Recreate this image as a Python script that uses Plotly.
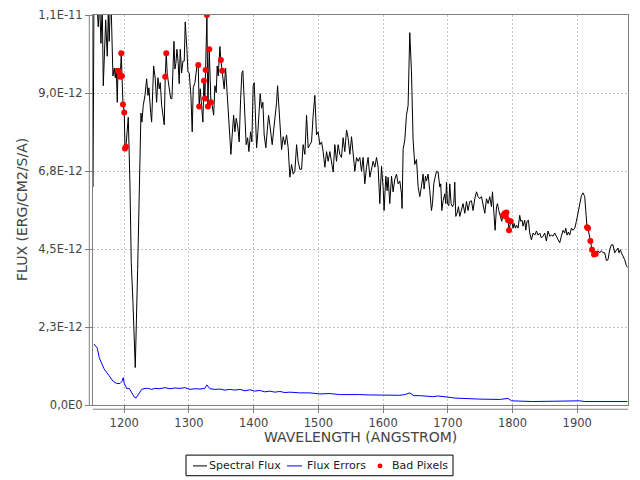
import plotly.graph_objects as go

FLUX_UNIT = 1e-12  # flux values below are in units of 1e-12 erg/cm2/s/A

# ---- Spectral flux ----
wave = [1151.7, 1153.2, 1158.3, 1159.8, 1162.0, 1164.0, 1166.0, 1167.6, 1171.3, 1173.7,
        1175.3, 1176.8, 1178.4, 1179.5, 1182.5, 1184.6, 1186.1, 1187.6, 1189.2, 1190.3,
        1191.8, 1193.8, 1195.4, 1196.4, 1198.0, 1200.0, 1201.1, 1202.6, 1206.2, 1208.8,
        1210.8, 1213.4, 1217.0, 1220.7, 1223.2, 1225.8, 1227.3, 1229.3, 1232.0, 1234.6,
        1236.6, 1238.1, 1240.8, 1242.3, 1245.4, 1247.9, 1250.0, 1252.0, 1254.1, 1255.6,
        1257.8, 1259.8, 1261.8, 1263.3, 1264.9, 1266.4, 1269.0, 1271.7, 1273.7, 1275.7,
        1276.8, 1278.3, 1279.8, 1281.4, 1283.4, 1284.9, 1286.5, 1288.6, 1290.7, 1292.7,
        1294.2, 1296.8, 1298.4, 1300.4, 1303.0, 1305.0, 1306.6, 1309.2, 1312.3, 1314.3,
        1315.8, 1317.4, 1319.5, 1321.5, 1323.1, 1324.6, 1325.7, 1327.7, 1329.3, 1331.3,
        1333.9, 1335.9, 1338.1, 1340.1, 1342.1, 1343.6, 1345.2, 1347.8, 1349.3, 1351.4,
        1352.9, 1354.4, 1356.6, 1358.6, 1361.2, 1362.8, 1364.8, 1366.8, 1369.0, 1371.0,
        1373.0, 1375.6, 1377.6, 1379.8, 1381.8, 1383.3, 1385.9, 1388.4, 1390.6, 1392.6,
        1395.2, 1397.2, 1399.2, 1400.8, 1402.3, 1404.5, 1406.5, 1408.0, 1410.0, 1412.2,
        1414.2, 1416.2, 1418.8, 1420.8, 1423.0, 1425.0, 1427.0, 1428.6, 1431.2, 1433.8,
        1435.4, 1436.9, 1438.5, 1440.5, 1443.1, 1445.6, 1448.2, 1450.8, 1453.3, 1455.9,
        1458.5, 1461.0, 1463.6, 1466.3, 1468.7, 1471.3, 1474.0, 1476.4, 1479.1, 1481.7,
        1484.2, 1486.8, 1489.4, 1491.9, 1494.5, 1497.1, 1499.6, 1502.2, 1504.9, 1507.3,
        1510.0, 1512.6, 1515.1, 1517.7, 1520.3, 1522.8, 1525.4, 1528.0, 1530.5, 1533.1,
        1535.7, 1538.2, 1540.8, 1543.5, 1545.9, 1548.6, 1551.2, 1553.7, 1556.3, 1558.9,
        1561.4, 1564.0, 1566.6, 1569.1, 1571.7, 1574.3, 1576.8, 1579.5, 1582.1, 1584.6,
        1587.2, 1589.8, 1592.3, 1594.9, 1597.5, 1600.0, 1601.5, 1604.2, 1606.2, 1607.7,
        1610.3, 1613.0, 1615.4, 1618.1, 1620.7, 1623.2, 1625.8, 1628.4, 1629.3, 1630.9,
        1633.5, 1636.1, 1638.6, 1641.2, 1643.8, 1646.3, 1648.9, 1651.6, 1654.1, 1656.7,
        1659.3, 1661.8, 1663.3, 1665.5, 1667.0, 1669.5, 1672.1, 1674.7, 1676.3, 1678.3,
        1680.3, 1682.5, 1684.9, 1687.6, 1689.1, 1690.7, 1692.7, 1695.3, 1696.8, 1697.9,
        1699.5, 1701.5, 1703.0, 1705.0, 1707.2, 1709.2, 1710.7, 1712.3, 1714.3, 1716.4,
        1718.5, 1721.1, 1723.5, 1726.2, 1728.8, 1731.3, 1733.9, 1736.5, 1739.0, 1741.6,
        1744.3, 1746.7, 1749.3, 1752.0, 1754.4, 1757.1, 1759.7, 1762.2, 1764.8, 1767.4,
        1769.0, 1771.0, 1773.0, 1775.2, 1776.7, 1778.7, 1781.3, 1783.3, 1785.3, 1788.0,
        1789.5, 1790.6, 1793.1, 1794.6, 1797.2, 1798.8, 1800.8, 1802.3, 1804.5, 1806.0,
        1808.5, 1811.1, 1812.7, 1814.7, 1816.2, 1818.8, 1820.4, 1822.4, 1824.5, 1826.6,
        1829.2, 1831.7, 1834.3, 1836.9, 1839.4, 1842.0, 1844.6, 1847.1, 1849.7, 1852.3,
        1854.8, 1857.5, 1860.1, 1862.5, 1865.2, 1867.8, 1870.3, 1872.9, 1875.5, 1878.0,
        1880.6, 1882.2, 1884.2, 1886.3, 1888.3, 1891.0, 1893.4, 1896.1, 1898.7, 1901.2,
        1903.8, 1906.4, 1908.9, 1911.5, 1913.1, 1915.1, 1916.6, 1920.3, 1922.8, 1925.9,
        1928.5, 1932.1, 1934.7, 1937.3, 1939.8, 1942.4, 1945.0, 1947.5, 1950.1, 1952.7,
        1955.2, 1957.8, 1960.5, 1962.9, 1964.5, 1966.6, 1968.2, 1970.7, 1973.3, 1975.9,
        1977.5]

flux_e12 = [6.29, 11.80, 11.42, 10.91, 11.56, 10.43, 11.56, 9.21, 11.11, 10.06,
            11.25, 10.49, 11.56, 11.70, 9.49, 9.72, 9.44, 9.72, 8.73, 9.64,
            9.61, 9.47, 10.15, 9.49, 8.67, 8.44, 7.40, 7.45, 8.30, 6.38,
            4.11, 2.98, 1.08, 3.91, 6.29, 8.42, 8.16, 8.64, 8.93, 9.41,
            8.93, 9.15, 8.44, 8.16, 9.78, 9.41, 8.73, 9.44, 9.12, 9.30,
            8.64, 8.36, 8.08, 9.47, 10.15, 9.55, 9.21, 8.84, 8.84, 9.69,
            10.49, 9.69, 9.86, 10.26, 9.86, 9.27, 10.26, 9.58, 9.92, 9.92,
            11.05, 10.26, 9.61, 9.58, 8.93, 7.88, 9.15, 9.30, 9.78, 9.81,
            8.61, 9.12, 8.64, 8.16, 9.35, 8.84, 9.66, 11.25, 8.61, 10.26,
            8.73, 8.64, 8.36, 9.21, 9.01, 9.78, 9.49, 10.34, 9.95, 9.64,
            9.30, 9.12, 9.72, 9.12, 8.36, 7.88, 7.23, 7.79, 8.36, 7.88,
            8.27, 7.99, 7.59, 8.84, 9.58, 9.64, 8.64, 7.51, 7.71, 7.31,
            7.88, 7.59, 9.21, 9.30, 8.56, 7.42, 7.88, 8.44, 8.98, 8.56,
            8.73, 7.79, 7.42, 7.88, 8.36, 8.08, 7.79, 7.51, 7.99, 8.36,
            8.73, 9.21, 8.64, 8.08, 7.37, 7.74, 7.51, 7.79, 7.42, 6.57,
            6.94, 6.66, 6.74, 7.51, 7.03, 6.80, 6.80, 7.51, 7.23, 8.36,
            7.42, 7.51, 7.59, 8.36, 8.93, 7.79, 7.88, 7.51, 7.59, 7.31,
            6.86, 7.31, 7.03, 7.31, 7.03, 6.72, 7.51, 7.03, 7.51, 7.23,
            7.14, 7.71, 7.31, 7.93, 7.71, 7.23, 7.74, 7.14, 6.74, 7.14,
            7.03, 7.14, 6.74, 7.14, 6.38, 6.86, 7.14, 6.57, 6.86, 7.03,
            6.86, 7.14, 6.86, 5.81, 6.89, 6.29, 5.61, 6.60, 6.18, 6.57,
            5.81, 6.60, 6.15, 6.52, 6.66, 6.38, 6.46, 6.09, 5.67, 7.37,
            7.65, 8.36, 8.64, 10.74, 9.64, 7.65, 6.94, 7.08, 6.29, 6.01,
            6.32, 6.66, 6.23, 6.60, 6.46, 6.66, 6.18, 5.61, 5.81, 6.38,
            6.57, 6.74, 6.72, 6.29, 6.38, 5.61, 5.89, 6.09, 5.81, 6.43,
            5.81, 5.75, 6.38, 5.81, 5.72, 5.81, 6.43, 5.44, 5.53, 5.72,
            5.44, 5.61, 5.81, 5.53, 5.87, 5.61, 5.87, 5.89, 5.61, 5.95,
            6.15, 6.01, 5.95, 6.01, 5.81, 5.53, 5.95, 5.81, 6.01, 5.72,
            6.15, 5.67, 5.04, 5.72, 5.81, 5.61, 5.38, 5.30, 5.47, 5.53,
            5.44, 5.55, 5.33, 5.04, 5.30, 5.30, 5.10, 5.24, 5.10, 5.19,
            5.10, 5.47, 5.30, 5.33, 5.16, 5.33, 5.04, 5.30, 5.33, 4.96,
            4.76, 4.96, 4.90, 5.02, 4.90, 4.96, 4.82, 4.87, 4.96, 4.73,
            5.02, 4.87, 4.90, 4.87, 4.96, 4.87, 4.76, 4.68, 4.87, 5.04,
            4.96, 5.10, 4.90, 4.99, 4.90, 5.10, 5.04, 5.10, 5.30, 5.53,
            5.81, 6.04, 6.12, 6.01, 5.61, 5.13, 5.10, 4.73, 4.48, 4.34,
            4.36, 4.45, 4.39, 4.45, 4.39, 4.39, 4.17, 4.19, 4.48, 4.62,
            4.62, 4.39, 4.45, 4.53, 4.39, 4.48, 4.39, 4.31, 4.19, 4.02,
            3.97]

# ---- Flux errors ----
err_wave = [1153.2, 1156.3, 1158.3, 1161.4, 1165.1, 1168.6, 1172.8, 1177.9, 1183.0, 1188.3,
            1193.4, 1196.4, 1198.5, 1200.0, 1203.7, 1207.7, 1211.4, 1215.4, 1218.1, 1220.1,
            1223.2, 1226.9, 1232.0, 1237.1, 1242.3, 1247.4, 1255.1, 1262.9, 1270.6, 1278.3,
            1286.0, 1293.7, 1301.5, 1309.2, 1316.9, 1324.6, 1327.7, 1332.3, 1340.1, 1347.8,
            1355.5, 1363.2, 1370.9, 1378.7, 1386.4, 1394.1, 1401.8, 1409.5, 1417.3, 1425.0,
            1432.7, 1440.5, 1448.2, 1455.9, 1471.3, 1486.8, 1502.2, 1517.7, 1533.1, 1548.6,
            1564.0, 1579.5, 1594.9, 1610.3, 1625.8, 1633.5, 1641.2, 1647.4, 1656.7, 1676.8,
            1684.5, 1703.0, 1710.7, 1749.3, 1780.2, 1793.1, 1798.3, 1831.2, 1903.8, 1911.5,
            1934.7, 1977.5]
err_e12 = [1.76, 1.70, 1.64, 1.36, 1.19, 1.05, 0.94, 0.79, 0.68, 0.62,
           0.62, 0.68, 0.79, 0.62, 0.48, 0.48, 0.37, 0.23, 0.20, 0.26,
           0.37, 0.45, 0.48, 0.48, 0.45, 0.48, 0.47, 0.50, 0.47, 0.49,
           0.48, 0.50, 0.45, 0.47, 0.46, 0.48, 0.58, 0.47, 0.45, 0.46,
           0.43, 0.45, 0.43, 0.45, 0.41, 0.44, 0.40, 0.42, 0.38, 0.40,
           0.37, 0.39, 0.36, 0.37, 0.35, 0.35, 0.32, 0.33, 0.30, 0.31,
           0.30, 0.29, 0.28, 0.29, 0.28, 0.30, 0.35, 0.27, 0.27, 0.24,
           0.26, 0.22, 0.20, 0.17, 0.16, 0.19, 0.12, 0.10, 0.12, 0.10,
           0.10, 0.10]

# ---- Bad pixels ----
bad_wave = [1190.3, 1191.8, 1193.8, 1195.4, 1196.4, 1198.0, 1200.0, 1201.1, 1202.6,
            1263.3, 1264.9,
            1314.3, 1315.8, 1323.1, 1324.6, 1325.7, 1327.7, 1329.3, 1331.3, 1333.9,
            1349.3, 1351.4,
            1785.3, 1788.0, 1789.5, 1790.6, 1793.1, 1794.6, 1797.2,
            1915.1, 1916.6, 1920.3, 1922.8, 1925.9, 1928.5]
bad_e12 = [9.64, 9.61, 9.47, 10.15, 9.49, 8.67, 8.44, 7.40, 7.45,
           9.47, 10.15,
           9.81, 8.61, 9.35, 8.84, 9.66, 11.25, 8.61, 10.26, 8.73,
           9.95, 9.64,
           5.47, 5.53, 5.44, 5.55, 5.33, 5.04, 5.30,
           5.13, 5.10, 4.73, 4.48, 4.34, 4.36]

# ---- Axis ticks / labels ----
x_ticks = [1200, 1300, 1400, 1500, 1600, 1700, 1800, 1900]
y_tick_e12 = [0.0, 2.25, 4.5, 6.75, 9.0, 11.25]
y_tick_text = ["0,0E0", "2,3E-12", "4,5E-12", "6,8E-12", "9,0E-12", "1,1E-11"]
x_range = [1151.7, 1978.4]
series_names = ["Spectral Flux", "Flux Errors", "Bad Pixels"]
series_colors = ["#000000", "#0000ff", "#ff0000"]

flux = [v * FLUX_UNIT for v in flux_e12]
err = [v * FLUX_UNIT for v in err_e12]
bad = [v * FLUX_UNIT for v in bad_e12]
y_ticks = [v * FLUX_UNIT for v in y_tick_e12]

FONT = "DejaVu Sans"
GRAY = "#808080"

# figure geometry (pixels)
W, H = 640, 480
L, R, T, B = 93, 12, 8, 75
PW, PH = W - L - R, H - T - B


def px(xp):
    return (xp - L) / PW


def py(yp):
    return (H - B - yp) / PH


fig = go.Figure()
fig.add_trace(go.Scatter(x=wave, y=flux, mode="lines", name=series_names[0],
                         line=dict(color=series_colors[0], width=1)))
fig.add_trace(go.Scatter(x=err_wave, y=err, mode="lines", name=series_names[1],
                         line=dict(color=series_colors[1], width=1)))
fig.add_trace(go.Scatter(x=bad_wave, y=bad, mode="markers", name=series_names[2],
                         marker=dict(color=series_colors[2], size=6, line=dict(width=0))))

axis_common = dict(showline=True, mirror=True, linecolor=GRAY, linewidth=1,
                   showgrid=True, gridcolor="#c4c4c4", gridwidth=1, griddash="2px,2px",
                   ticks="outside", ticklen=7, tickcolor=GRAY, zeroline=False,
                   tickfont=dict(family=FONT, size=11.5, color="#444444"))

fig.update_xaxes(range=x_range, tickvals=x_ticks, **axis_common)
fig.update_yaxes(range=[0, y_ticks[-1]], tickvals=y_ticks, ticktext=y_tick_text, **axis_common)

# offset axis lines (JFreeChart style)
fig.add_shape(type="line", xref="paper", yref="paper", x0=0, x1=1, y0=py(409.3), y1=py(409.3),
              line=dict(color=GRAY, width=1))
fig.add_shape(type="line", xref="paper", yref="paper", x0=px(89.3), x1=px(89.3), y0=0, y1=1,
              line=dict(color=GRAY, width=1))

fig.add_annotation(text="WAVELENGTH (ANGSTROM)", xref="paper", yref="paper", x=0.5, y=py(438),
                   xanchor="center", yanchor="middle", showarrow=False,
                   font=dict(family=FONT, size=14, color="#444444"))
fig.add_annotation(text="FLUX (ERG/CM2/S/A)", xref="paper", yref="paper", x=px(22), y=0.5,
                   xanchor="center", yanchor="middle", textangle=-90, showarrow=False,
                   font=dict(family=FONT, size=14, color="#444444"))

# legend (drawn JFreeChart-style below the chart)
leg_y = py(467)
fig.add_shape(type="rect", xref="paper", yref="paper", x0=px(186), x1=px(453),
              y0=py(477), y1=py(456), line=dict(color="black", width=1), fillcolor="white")
fig.add_shape(type="line", xref="paper", yref="paper", x0=px(193), x1=px(207), y0=leg_y, y1=leg_y,
              line=dict(color=series_colors[0], width=1))
fig.add_shape(type="line", xref="paper", yref="paper", x0=px(287), x1=px(302), y0=leg_y, y1=leg_y,
              line=dict(color=series_colors[1], width=1))
fig.add_shape(type="circle", xref="paper", yref="paper", x0=px(377.5), x1=px(382.5),
              y0=py(469.5), y1=py(464.5), line=dict(color=series_colors[2], width=0),
              fillcolor=series_colors[2])
for name, xp in zip(series_names, [207, 304.5, 390]):
    fig.add_annotation(text=name, xref="paper", yref="paper", x=px(xp), y=leg_y,
                       xanchor="left", yanchor="middle", showarrow=False,
                       font=dict(family=FONT, size=11, color="#222222"))

fig.update_layout(
    width=W, height=H,
    margin=dict(l=L, r=R, t=T, b=B, pad=0),
    paper_bgcolor="white", plot_bgcolor="white",
    font=dict(family=FONT, color="#333333"),
    showlegend=False,
)

fig.write_html("out.html")
